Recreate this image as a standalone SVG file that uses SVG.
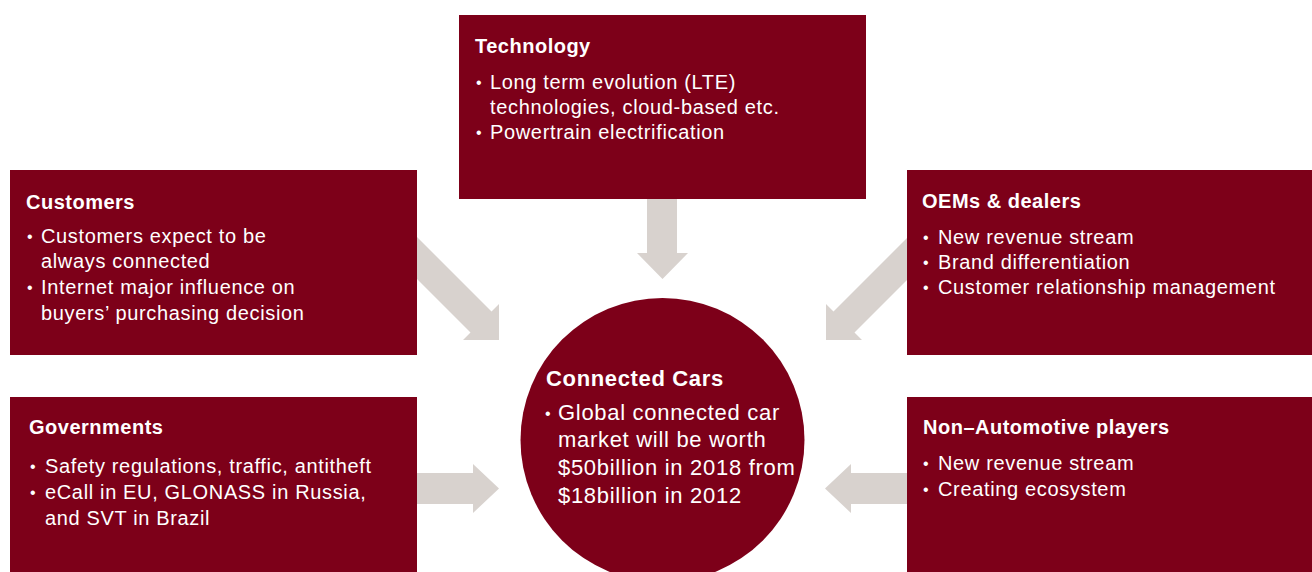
<svg xmlns="http://www.w3.org/2000/svg" width="1312" height="572" viewBox="0 0 1312 572">
  <style>
    .box { fill: #7D0019; }
    .arrow { fill: #D8D2CE; }
    text { font-family: "Liberation Sans", Arial, Helvetica, sans-serif; fill: #FFFFFF; }
    .title { font-size: 20px; font-weight: bold; letter-spacing: 0.5px; }
    .body { font-size: 20px; letter-spacing: 0.65px; }
    .ctitle { font-size: 22px; font-weight: bold; letter-spacing: 0.65px; }
    .cbody { font-size: 22px; letter-spacing: 0.7px; }
    .dot { font-size: 16px; }
  </style>

  <rect width="1312" height="572" fill="#FFFFFF"/>

  <!-- block arrows pointing into the central circle -->
  <g id="connectors">
    <polygon class="arrow" points="647,198 677,198 677,253 688,253 662.5,279 637,253 647,253"/>
    <polygon class="arrow" points="417,237 491.5,311.5 499,304 499,340 463,340 470.5,332.5 417,279"/>
    <polygon class="arrow" points="908,237 833.5,311.5 826,304 826,340 862,340 854.5,332.5 908,279"/>
    <polygon class="arrow" points="417,473 473,473 473,464 499,488.5 473,513 473,504 417,504"/>
    <polygon class="arrow" points="908,473 851,473 851,464 825,488.5 851,513 851,504 908,504"/>
  </g>

  <g id="technology">
    <rect class="box" x="459" y="15" width="407" height="184"/>
    <text class="title" x="475" y="53">Technology</text>
    <text class="dot" x="476" y="88">•</text>
    <text class="body" x="490" y="89">Long term evolution (LTE)</text>
    <text class="body" x="490" y="114">technologies, cloud-based etc.</text>
    <text class="dot" x="476" y="138">•</text>
    <text class="body" x="490" y="139">Powertrain electrification</text>
  </g>

  <g id="customers">
    <rect class="box" x="10" y="170" width="407" height="185"/>
    <text class="title" x="26" y="209">Customers</text>
    <text class="dot" x="27" y="242">•</text>
    <text class="body" x="41" y="243">Customers expect to be</text>
    <text class="body" x="41" y="268">always connected</text>
    <text class="dot" x="27" y="293">•</text>
    <text class="body" x="41" y="294">Internet major influence on</text>
    <text class="body" x="41" y="320">buyers’ purchasing decision</text>
  </g>

  <g id="oems-dealers">
    <rect class="box" x="907" y="170" width="405" height="185"/>
    <text class="title" x="922" y="208">OEMs &amp; dealers</text>
    <text class="dot" x="923" y="243">•</text>
    <text class="body" x="938" y="244">New revenue stream</text>
    <text class="dot" x="923" y="268">•</text>
    <text class="body" x="938" y="269">Brand differentiation</text>
    <text class="dot" x="923" y="293">•</text>
    <text class="body" x="938" y="294">Customer relationship management</text>
  </g>

  <g id="governments">
    <rect class="box" x="10" y="397" width="407" height="175"/>
    <text class="title" x="29" y="434">Governments</text>
    <text class="dot" x="30" y="472">•</text>
    <text class="body" x="45" y="473">Safety regulations, traffic, antitheft</text>
    <text class="dot" x="30" y="498">•</text>
    <text class="body" x="45" y="499">eCall in EU, GLONASS in Russia,</text>
    <text class="body" x="45" y="525">and SVT in Brazil</text>
  </g>

  <g id="non-automotive">
    <rect class="box" x="907" y="397" width="405" height="175"/>
    <text class="title" x="923" y="434">Non–Automotive players</text>
    <text class="dot" x="923" y="469">•</text>
    <text class="body" x="938" y="470">New revenue stream</text>
    <text class="dot" x="923" y="495">•</text>
    <text class="body" x="938" y="496">Creating ecosystem</text>
  </g>

  <g id="connected-cars">
    <circle class="box" cx="662.5" cy="440" r="142"/>
    <text class="ctitle" x="546" y="386">Connected Cars</text>
    <text class="dot" x="545" y="419">•</text>
    <text class="cbody" x="558" y="420">Global connected car</text>
    <text class="cbody" x="558" y="447">market will be worth</text>
    <text class="cbody" x="558" y="475">$50billion in 2018 from</text>
    <text class="cbody" x="558" y="503">$18billion in 2012</text>
  </g>
</svg>
